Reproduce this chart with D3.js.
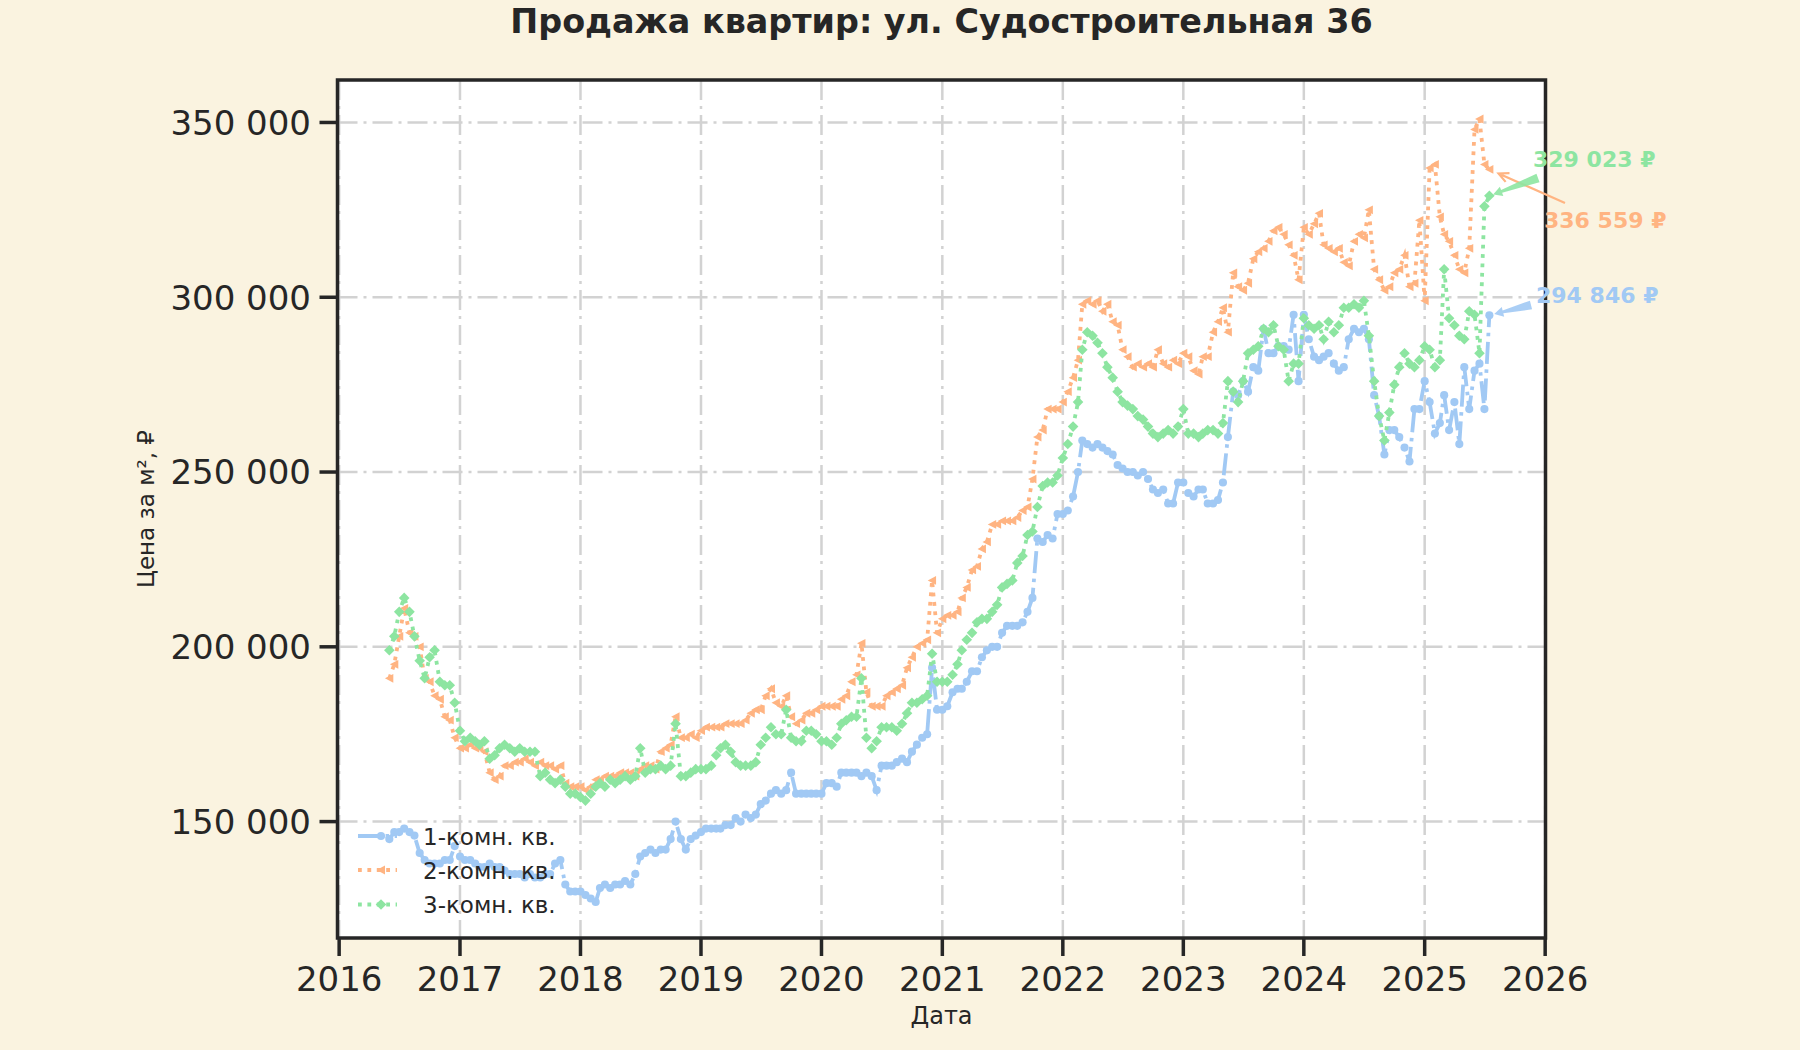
<!DOCTYPE html>
<html><head><meta charset="utf-8">
<script src="https://cdn.jsdelivr.net/npm/d3@7"></script>
<style>html,body{margin:0;padding:0;background:#faf3e0;} svg{display:block;}</style>
</head><body><svg id="chart" width="1800" height="1050"></svg>
<script>
// ---------- DATA (values in thousand ₽ per m², two readings per month: 1st and 16th) ----------
const firstYear = 2016, firstMonth = 6, lastYear = 2025, lastMonth = 7;
const seriesNames = ["1-комн. кв.", "2-комн. кв.", "3-комн. кв."];
const yTicks = [150000, 200000, 250000, 300000, 350000];
const xTickYears = [2016, 2017, 2018, 2019, 2020, 2021, 2022, 2023, 2024, 2025, 2026];

const room1 = [
  145,147,147,148,147,146,141,139,138,138,138,139,139,143,
  140,139,139,138,137,137,138,137,137,136,135,135,135,134,135,134,134,135,135,138,139,132,130,130,
  130,129,128,127,131,132,131,132,132,133,132,135,140,141,142,141,142,142,145,150,145,142,145,146,
  147,148,148,148,148,149,149,151,150,152,151,152,155,156,158,159,158,159,164,158,158,158,158,158,
  158,161,161,160,164,164,164,164,163,164,163,159,166,166,166,167,168,167,170,172,174,175,194,182,
  182,183,187,188,188,190,193,193,197,199,200,200,204,206,206,206,207,210,214,231,230,232,231,238,
  238,239,243,250,259,258,257,258,257,256,255,252,251,250,250,249,250,248,245,244,245,241,241,247,
  247,244,243,245,245,241,241,242,247,260,273,272,276,273,280,279,291,284,284,286,286,285,295,276,
  295,288,283,282,283,284,281,279,280,288,291,290,291,288,272,266,255,262,262,260,257,253,268,268,
  276,270,261,264,272,262,270,258,280,268,279,281,268,294.846
];
const room2 = [
  191,195,203,211,204,203,200,191,190,186,185,180,179,174,
  171,171,172,171,171,170,164,162,163,166,166,167,167,168,167,166,167,166,166,165,166,161,160,160,
  160,159,160,162,162,163,163,163,164,164,164,163,165,166,166,165,170,171,172,180,174,174,175,174,
  176,177,177,177,177,178,178,178,178,179,181,182,182,186,188,184,183,186,180,178,179,181,181,182,
  183,183,183,183,185,186,190,192,201,187,183,183,183,186,187,188,189,194,197,200,201,202,219,204,
  208,209,209,210,214,217,222,223,228,230,235,235,236,236,236,237,239,240,248,260,262,268,268,268,
  270,273,277,282,298,299,298,299,296,298,293,292,285,283,280,281,280,281,280,285,281,280,282,281,
  284,283,279,278,283,283,290,293,297,290,307,303,302,304,311,313,314,316,319,320,318,315,312,305,
  320,318,321,324,315,314,313,314,310,309,316,318,317,325,308,305,302,303,307,308,312,303,304,322,
  299,337,338,323,318,316,312,308,307,314,348,351,338,336.559
];
const room3 = [
  199,203,210,214,210,203,196,191,197,199,190,189,189,184,
  176,173,174,173,172,173,168,169,171,172,171,170,171,170,170,170,163,164,162,161,162,160,158,158,
  157,156,158,160,161,160,162,161,162,163,162,163,171,164,165,165,166,165,166,178,163,163,164,165,
  165,165,166,169,171,172,170,167,166,166,166,167,172,174,177,175,175,182,174,173,173,176,176,175,
  173,173,172,174,178,179,180,180,191,174,171,173,177,177,177,176,178,181,184,184,185,186,198,190,
  190,190,192,195,199,202,204,207,208,208,210,212,217,218,219,224,226,232,233,240,246,247,247,249,
  254,258,263,270,285,290,289,287,284,280,277,273,270,269,268,266,265,263,261,260,261,262,261,263,
  268,261,261,260,261,262,262,261,264,276,273,270,276,284,285,286,291,290,292,286,285,276,281,281,
  294,292,291,292,288,293,290,292,297,297,298,297,299,289,276,266,259,267,275,280,284,281,280,282,
  286,285,280,282,308,294,292,289,288,296,295,284,326,329.023
];

// ---------- dates (1st and 16th of every month) ----------
const dates = [];
for (let yr = firstYear; yr <= lastYear; yr++) {
  for (let m = 1; m <= 12; m++) {
    if (yr === firstYear && m < firstMonth) continue;
    if (yr === lastYear && m > lastMonth) break;
    dates.push(new Date(yr, m - 1, 1), new Date(yr, m - 1, 16));
  }
}

const colors = ["#a1c9f4", "#ffb482", "#8de5a1"];
const seriesVals = [room1, room2, room3];
const series = seriesVals.map((vals, i) => ({
  name: seriesNames[i], color: colors[i],
  points: vals.map((v, k) => ({date: dates[k], value: v * 1000}))
}));

// ---------- layout ----------
const FONT = "DejaVu Sans";
const TXT = "#262626";
const plot = {left: 337.5, right: 1545.5, top: 80, bottom: 938};
const svg = d3.select("#chart");
svg.append("rect").attr("width", 1800).attr("height", 1050).attr("fill", "#faf3e0");

const x = d3.scaleTime().domain([new Date(2015, 11, 27), new Date(2026, 0, 2)]).range([plot.left, plot.right]);
const y = d3.scaleLinear().domain([116700, 362150]).range([plot.bottom, plot.top]);

const loc = d3.formatLocale({decimal: ",", thousands: " ", grouping: [3], currency: ["", " ₽"]});
const fmt = loc.format(",d");

// plot background
svg.append("rect").attr("x", plot.left).attr("y", plot.top)
  .attr("width", plot.right - plot.left).attr("height", plot.bottom - plot.top).attr("fill", "#ffffff");

// grid
const grid = svg.append("g").attr("stroke", "#d2d2d2").attr("stroke-width", 2.5).attr("stroke-dasharray", "20,6,3,6");
xTickYears.forEach(yr => {
  const xx = x(new Date(yr, 0, 1));
  grid.append("line").attr("x1", xx).attr("x2", xx).attr("y1", plot.top).attr("y2", plot.bottom);
});
yTicks.forEach(v => {
  grid.append("line").attr("x1", plot.left).attr("x2", plot.right).attr("y1", y(v)).attr("y2", y(v));
});

// series
const lineGen = d3.line().x(d => x(d.date)).y(d => y(d.value));
const styles = [
  {dash: "22,5.6,3.5,5.6", marker: "circle"},
  {dash: "3.8,5.6", marker: "tri"},
  {dash: "3.8,5.6", marker: "diamond"}
];
function markerPath(kind) {
  if (kind === "circle") return d3.symbol(d3.symbolCircle, 52)();
  if (kind === "tri") return "M-4.4,0L4,-4.4L4,4.4Z";
  return "M0,-5.3L5.3,0L0,5.3L-5.3,0Z";
}
series.forEach((s, i) => {
  const g = svg.append("g");
  g.append("path").attr("d", lineGen(s.points)).attr("fill", "none")
    .attr("stroke", s.color).attr("stroke-width", 3.8).attr("stroke-dasharray", styles[i].dash);
  g.selectAll("path.m").data(s.points).enter().append("path").attr("class", "m")
    .attr("d", markerPath(styles[i].marker))
    .attr("transform", d => `translate(${x(d.date)},${y(d.value)})`)
    .attr("fill", s.color);
});

// frame
svg.append("rect").attr("x", plot.left).attr("y", plot.top)
  .attr("width", plot.right - plot.left).attr("height", plot.bottom - plot.top)
  .attr("fill", "none").attr("stroke", TXT).attr("stroke-width", 3.5);

// ticks & labels
const axes = svg.append("g").attr("font-family", FONT).attr("fill", TXT);
yTicks.forEach(v => {
  axes.append("line").attr("x1", plot.left - 18).attr("x2", plot.left).attr("y1", y(v)).attr("y2", y(v))
    .attr("stroke", TXT).attr("stroke-width", 3.5);
  axes.append("text").attr("x", 311).attr("y", y(v) + 12.3).attr("text-anchor", "end")
    .attr("font-size", 34).text(fmt(v));
});
xTickYears.forEach(yr => {
  const xx = x(new Date(yr, 0, 1));
  axes.append("line").attr("x1", xx).attr("x2", xx).attr("y1", plot.bottom).attr("y2", plot.bottom + 18)
    .attr("stroke", TXT).attr("stroke-width", 3.5);
  axes.append("text").attr("x", xx).attr("y", 991).attr("text-anchor", "middle")
    .attr("font-size", 34).text(yr);
});

// axis labels & title
axes.append("text").attr("x", (plot.left + plot.right) / 2).attr("y", 1024).attr("text-anchor", "middle")
  .attr("font-size", 24).text("Дата");
axes.append("text").attr("transform", `translate(154,${(plot.top + plot.bottom) / 2}) rotate(-90)`)
  .attr("text-anchor", "middle").attr("font-size", 23).text("Цена за м², ₽");
axes.append("text").attr("x", (plot.left + plot.right) / 2).attr("y", 33).attr("text-anchor", "middle")
  .attr("font-size", 33.4).attr("font-weight", "bold").text("Продажа квартир: ул. Судостроительная 36");

// legend
const lg = svg.append("g");
const rowsY = [836, 870, 904.5];
series.forEach((s, i) => {
  lg.append("line").attr("x1", 358).attr("x2", 397).attr("y1", rowsY[i]).attr("y2", rowsY[i])
    .attr("stroke", s.color).attr("stroke-width", 3.8).attr("stroke-dasharray", styles[i].dash);
  lg.append("path").attr("d", markerPath(styles[i].marker))
    .attr("transform", `translate(381,${rowsY[i]})`).attr("fill", s.color);
  lg.append("text").attr("x", 423).attr("y", rowsY[i] + 8.5).attr("font-family", FONT)
    .attr("font-size", 23).attr("fill", TXT).text(s.name);
});

// end-value annotations
const ann = svg.append("g").attr("font-family", FONT).attr("font-weight", "bold").attr("font-size", 22);
const annLayout = [
  {text: [1536, 303], start: [1531, 305], shrink: 5, kind: "wedge"},
  {text: [1544, 228], start: [1565, 203], shrink: 10, kind: "line"},
  {text: [1533, 167], start: [1538, 178], shrink: 4, kind: "wedge"}
];
series.forEach((s, i) => {
  const L = annLayout[i];
  const last = s.points[s.points.length - 1];
  const px = x(last.date), py = y(last.value);
  const [sx, sy] = L.start;
  const dx = sx - px, dy = sy - py, len = Math.hypot(dx, dy);
  const ux = dx / len, uy = dy / len;           // from point toward text
  const tx = px + ux * L.shrink, ty = py + uy * L.shrink;
  if (L.kind === "wedge") {
    const nx = -uy, ny = ux;
    const headLen = 9, headW = 10, wB = 3, wT = 9;
    const bx = tx + ux * headLen, by = ty + uy * headLen;
    const pts = [
      [sx + nx * wT / 2, sy + ny * wT / 2], [bx + nx * wB / 2, by + ny * wB / 2],
      [bx + nx * headW / 2, by + ny * headW / 2], [tx, ty],
      [bx - nx * headW / 2, by - ny * headW / 2], [bx - nx * wB / 2, by - ny * wB / 2],
      [sx - nx * wT / 2, sy - ny * wT / 2]
    ];
    ann.append("path").attr("d", "M" + pts.map(p => p.join(",")).join("L") + "Z")
      .attr("fill", s.color).attr("opacity", 0.9);
  } else {
    const ang = Math.atan2(uy, ux), a = 0.45, hl = 11;
    ann.append("path")
      .attr("d", `M${sx},${sy}L${tx},${ty}M${tx + Math.cos(ang + a) * hl},${ty + Math.sin(ang + a) * hl}L${tx},${ty}L${tx + Math.cos(ang - a) * hl},${ty + Math.sin(ang - a) * hl}`)
      .attr("fill", "none").attr("stroke", s.color).attr("stroke-width", 2.2);
  }
  ann.append("text").attr("x", L.text[0]).attr("y", L.text[1]).attr("fill", s.color)
    .text(fmt(Math.round(last.value)) + " ₽");
});
</script>
</body></html>
